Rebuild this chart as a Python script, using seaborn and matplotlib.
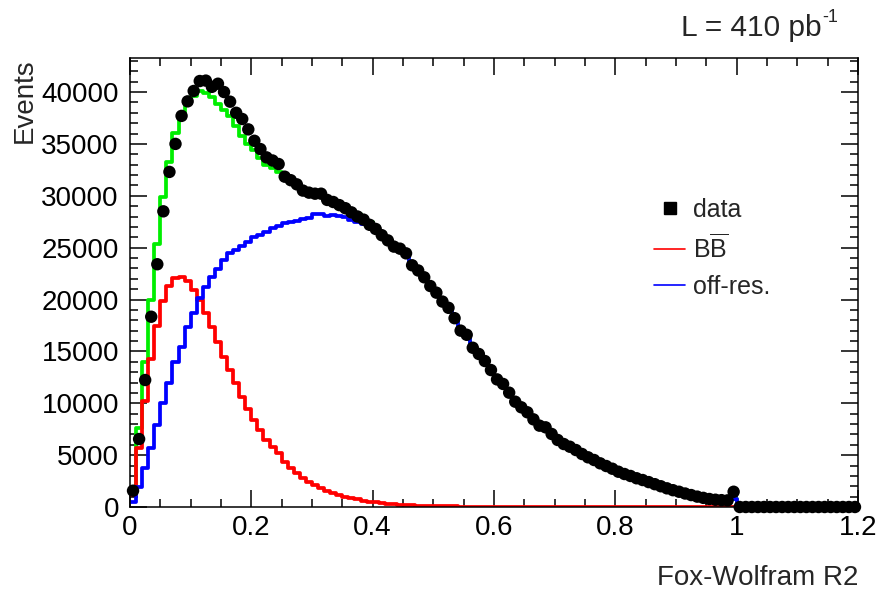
import numpy as np
import pandas as pd
import matplotlib
matplotlib.use("Agg")
import matplotlib.pyplot as plt
from matplotlib.lines import Line2D
import seaborn as sns

# ---------------- data (bin width 0.01, range 0 - 1.2) ----------------
bin_edges = [round(0.01 * i, 2) for i in range(121)]

data_counts = [
    1570, 6550, 12240, 18340, 23400, 28500, 32300, 35000, 37700, 39100,
    40100, 41060, 41100, 40500, 40800, 40000, 39070, 38000, 37400, 36400,
    35300, 34500, 33700, 33400, 33060, 31840, 31500, 31100, 30500, 30300,
    30200, 30200, 29600, 29400, 29100, 28800, 28400, 28000, 27700, 27200,
    26800, 26200, 25700, 25100, 24900, 24450, 23300, 22800, 22140, 21300,
    20660, 19800, 19200, 18200, 17000, 16600, 15350, 14750, 14070, 13200,
    12300, 11860, 11020, 10150, 9610, 9130, 8450, 7840, 7680, 7040,
    6460, 6070, 5810, 5490, 5110, 4790, 4530, 4210, 3950, 3690,
    3400, 3180, 2990, 2770, 2600, 2400, 2200, 2000, 1800, 1620,
    1470, 1300, 1150, 1000, 880, 770, 700, 660, 640, 1470,
] + [0] * 20

bbbar_counts = [
    1200, 5650, 10250, 14240, 17450, 19860, 21300, 22040, 22140, 21800,
    20900, 19950, 18670, 17380, 15930, 14490, 13200, 11920, 10630, 9430,
    8390, 7420, 6460, 5810, 5170, 4370, 3730, 3250, 2770, 2440,
    2120, 1800, 1570, 1320, 1160, 990, 850, 730, 620, 530,
    450, 380, 320, 270, 230, 190, 160, 135, 115, 95,
    80, 68, 58, 50, 43, 37, 32, 28, 24, 21,
    18, 15, 13, 11, 9, 8, 7, 6, 5, 4,
    4, 3, 3, 2, 2, 2, 1, 1, 1, 1,
] + [0] * 40

offres_counts = [
    500, 1960, 3730, 5720, 7900, 10000, 11920, 14010, 15450, 17320,
    18730, 20120, 21240, 22140, 22910, 23810, 24450, 24770, 25160, 25570,
    26060, 26220, 26540, 26860, 27090, 27340, 27500, 27600, 27730, 27890,
    28210, 28210, 28050, 28150, 28050, 27920, 27660, 27500, 27250, 26900,
    26500, 26000, 25500, 25000, 24750, 24350, 23300, 22750, 22150, 21300,
    20700, 19850, 19200, 18250, 17100, 16600, 15400, 14800, 14100, 13250,
    12350, 11900, 11050, 10200, 9650, 9150, 8500, 7900, 7700, 7050,
    6500, 6100, 5830, 5500, 5130, 4800, 4550, 4230, 3970, 3700,
    3420, 3200, 3000, 2780, 2600, 2400, 2200, 2000, 1800, 1620,
    1460, 1300, 1150, 1000, 880, 770, 700, 660, 640, 800,
] + [0] * 20

x_ticks = [0, 0.2, 0.4, 0.6, 0.8, 1.0, 1.2]
x_tick_labels = ["0", "0.2", "0.4", "0.6", "0.8", "1", "1.2"]
y_ticks = [0, 5000, 10000, 15000, 20000, 25000, 30000, 35000, 40000]
legend_labels = ["data", r"B$\overline{\rm B}$", "off-res."]

# ---------------- build frames ----------------
edges = np.array(bin_edges)
centers = (edges[:-1] + edges[1:]) / 2
df = pd.DataFrame({
    "x": centers,
    "data": data_counts,
    "bb": bbbar_counts,
    "off": offres_counts,
})
df["total"] = df["bb"] + df["off"]

# step outline frames: each bin value held from its left edge to its right edge
step = pd.DataFrame({"edge": edges})
for col in ["total", "bb", "off"]:
    vals = list(df[col])
    step[col] = vals + [vals[-1]]

# ---------------- style ----------------
sns.set_theme(style="ticks")
plt.rcParams["font.family"] = ["Liberation Sans", "DejaVu Sans"]
plt.rcParams["mathtext.fontset"] = "custom"
plt.rcParams["mathtext.rm"] = "Liberation Sans"
plt.rcParams["mathtext.it"] = "Liberation Sans:italic"
plt.rcParams["mathtext.bf"] = "Liberation Sans:bold"

fig = plt.figure(figsize=(8.82, 5.91), dpi=100)
ax = fig.add_axes([130 / 882, 1 - 507 / 591, 728 / 882, 449 / 591])

lw = 2.7
for col, colr in [("total", "#00ee00"), ("bb", "#ff0000"), ("off", "#0000ff")]:
    sns.lineplot(data=step, x="edge", y=col, drawstyle="steps-post",
                 color=colr, linewidth=lw, ax=ax, estimator=None, sort=False)
sns.scatterplot(data=df, x="x", y="data", color="black", s=80,
                edgecolor="none", ax=ax, zorder=5, clip_on=False)

ax.set_xlim(0, 1.2)
ax.set_ylim(0, 43280)
ax.set_xticks(x_ticks)
ax.set_xticklabels(x_tick_labels)
ax.set_yticks(y_ticks)
ax.set_yticklabels([str(v) for v in y_ticks])
ax.xaxis.set_minor_locator(matplotlib.ticker.MultipleLocator(0.05))
ax.yaxis.set_minor_locator(matplotlib.ticker.MultipleLocator(1000))
ax.tick_params(which="both", direction="in", top=True, right=True,
               colors="black", labelsize=20, width=1.1)
ax.tick_params(which="major", length=12)
ax.tick_params(which="minor", length=6)
ax.tick_params(axis="x", which="major", pad=6)
ax.tick_params(axis="y", which="major", pad=8)
for sp in ax.spines.values():
    sp.set_visible(True)
    sp.set_color("black")
    sp.set_linewidth(1.1)

ax.set_xlabel("")
ax.set_ylabel("")
fig.text(858 / 882, 1 - 585 / 591, "Fox-Wolfram R2", ha="right", va="baseline",
         fontsize=20)
fig.text(12 / 882, 1 - 58 / 591, "Events", rotation=90, ha="left", va="top",
         fontsize=20)
fig.text(822 / 882, 1 - 36 / 591, "L = 410 pb", ha="right",
         va="baseline", fontsize=21.5)
fig.text(822 / 882, 1 - 22 / 591, "-1", ha="left",
         va="baseline", fontsize=13)

handles = [
    Line2D([], [], marker="s", color="black", linestyle="none", markersize=8),
    Line2D([], [], color="#ff0000", linewidth=1.2),
    Line2D([], [], color="#0000ff", linewidth=1.2),
]
ax.legend(handles, legend_labels, loc="upper left",
          bbox_to_anchor=(654 / 882, 1 - 198 / 591),
          bbox_transform=fig.transFigure, frameon=False, fontsize=18,
          handlelength=1.25, handletextpad=0.3, labelspacing=0.48,
          borderpad=0, borderaxespad=0)

fig.savefig("out.png", dpi=100)
